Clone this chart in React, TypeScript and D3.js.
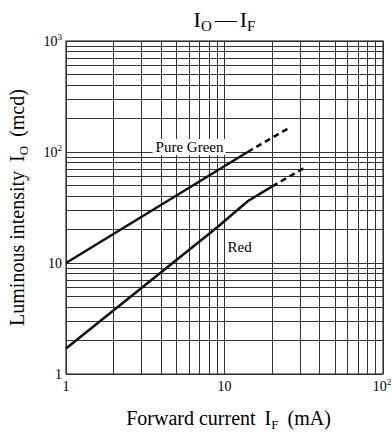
import * as d3 from "d3";

// forward current (mA) vs luminous intensity (mcd)
const greenSolid = [
  { f: 1, v: 10 },
  { f: 14, v: 100 },
];
const greenDash = [
  { f: 14, v: 100 },
  { f: 25, v: 162 },
];
const redSolid = [
  { f: 1, v: 1.7 },
  { f: 9, v: 21 },
  { f: 14, v: 36 },
  { f: 20, v: 49 },
];
const redDash = [
  { f: 20, v: 49 },
  { f: 33, v: 74 },
];

const xTicks = [1, 10, 100];
const xTickLabels = ["1", "10", "10²"];
const yTicks = [1, 10, 100, 1000];

const width = 392;
const height = 434;
const marginLeft = 66;
const marginRight = 9;
const marginTop = 41;
const marginBottom = 60;

const font = "'Liberation Serif', 'Times New Roman', serif";

export default function App() {
  const x = d3.scaleLog().domain([1, 100]).range([marginLeft, width - marginRight]);
  const y = d3.scaleLog().domain([1, 1000]).range([height - marginBottom, marginTop]);

  const xGrid: number[] = [];
  for (let d = 1; d < 100; d *= 10) for (let k = 1; k < 10; k++) xGrid.push(d * k);
  xGrid.push(100);
  const yGrid: number[] = [];
  for (let d = 1; d < 1000; d *= 10) for (let k = 1; k < 10; k++) yGrid.push(d * k);
  yGrid.push(1000);

  const line = d3
    .line<{ f: number; v: number }>()
    .x((d) => x(d.f))
    .y((d) => y(d.v));

  const x0 = marginLeft;
  const x1 = width - marginRight;
  const y0 = height - marginBottom;
  const y1 = marginTop;

  return (
    <svg
      width={width}
      height={height}
      style={{ position: "absolute", left: 0, top: 0, background: "#fff" }}
      fontFamily={font}
    >
      {/* grid */}
      <g stroke="#333" strokeWidth={1} shapeRendering="crispEdges">
        {xGrid.map((d) => (
          <line key={"x" + d} x1={x(d)} x2={x(d)} y1={y1} y2={y0} />
        ))}
        {yGrid.map((d) => (
          <line key={"y" + d} x1={x0} x2={x1} y1={y(d)} y2={y(d)} />
        ))}
      </g>
      <rect x={x0} y={y1} width={x1 - x0} height={y0 - y1} fill="none" stroke="#333" strokeWidth={1.2} />

      {/* series labels with white boxes */}
      <rect x={x(10) - 72} y={y(100) - 13} width={73} height={16} fill="#fff" />
      <text x={x(10) - 1} y={y(100)} textAnchor="end" fontSize={15}>
        Pure Green
      </text>
      <rect x={x(10) + 1.5} y={y(12.5) - 13} width={28} height={16} fill="#fff" />
      <text x={x(10) + 3} y={y(12.5)} fontSize={15}>
        Red
      </text>

      {/* curves */}
      <g fill="none" stroke="#111" strokeWidth={2.6}>
        <path d={line(greenSolid) ?? ""} />
        <path d={line(greenDash) ?? ""} strokeDasharray="6,4" />
        <path d={line(redSolid) ?? ""} />
        <path d={line(redDash) ?? ""} strokeDasharray="6,4" />
      </g>

      {/* x tick labels */}
      {xTicks.map((d, i) => (
        <text key={"xl" + d} x={x(d) + (i === 2 ? -1 : 0)} y={y0 + 17} textAnchor="middle" fontSize={14}>
          {xTickLabels[i].replace("²", "")}
          {i === 2 && (
            <tspan fontSize={9} dy={-6}>
              2
            </tspan>
          )}
        </text>
      ))}

      {/* y tick labels */}
      {yTicks.map((d) => {
        const p = Math.round(Math.log10(d));
        return (
          <text key={"yl" + d} x={x0 - 4} y={y(d) + 5} textAnchor="end" fontSize={14}>
            {p === 0 ? "1" : "10"}
            {p > 1 && (
              <tspan fontSize={9} dy={-6}>
                {p}
              </tspan>
            )}
          </text>
        );
      })}

      {/* title */}
      <text x={(x0 + x1) / 2} y={27} textAnchor="middle" fontSize={22}>
        I<tspan fontSize={15} dy={4}>O</tspan>
        <tspan dy={-4} dx={3}>—</tspan>
        <tspan dx={3}>I</tspan>
        <tspan fontSize={15} dy={4}>F</tspan>
      </text>

      {/* axis titles */}
      <text x={(x0 + x1) / 2 + 4} y={425} textAnchor="middle" fontSize={20}>
        Forward current<tspan dx={9}>I</tspan>
        <tspan fontSize={13} dy={4}>F</tspan>
        <tspan dy={-4} dx={9}>(mA)</tspan>
      </text>
      <text
        transform={`translate(24,${(y0 + y1) / 2}) rotate(-90)`}
        textAnchor="middle"
        fontSize={20}
      >
        Luminous intensity<tspan dx={9}>I</tspan>
        <tspan fontSize={13} dy={4}>O</tspan>
        <tspan dy={-4} dx={9}>(mcd)</tspan>
      </text>
    </svg>
  );
}
